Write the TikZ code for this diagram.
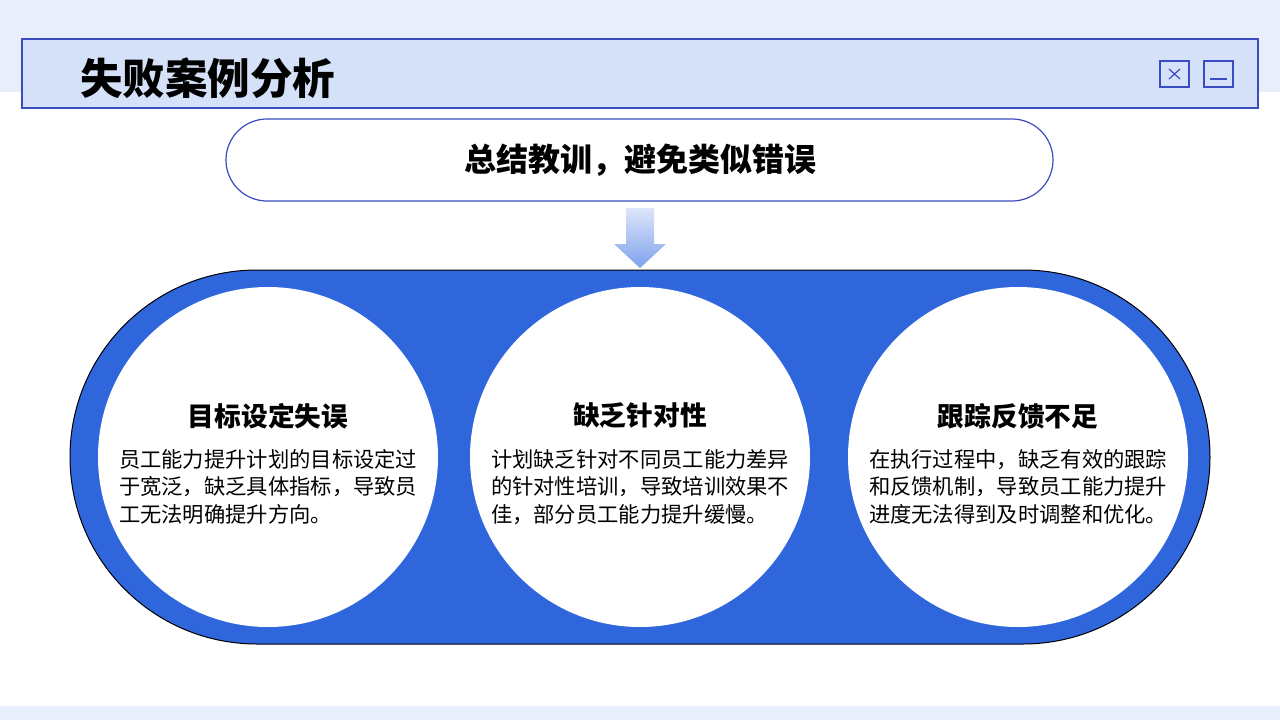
\documentclass[tikz,border=0pt]{standalone}
\usepackage{fontspec}
\setmainfont{Noto Sans CJK SC}
\usepackage{tikz}
\definecolor{bandblue}{HTML}{E8EEFA}
\definecolor{titlefill}{HTML}{D5E1F8}
\definecolor{lineblue}{HTML}{3A4CC0}
\definecolor{pillblue}{HTML}{2F66DC}
\definecolor{arrowtop}{HTML}{DCE6FA}
\definecolor{arrowbot}{HTML}{7FA2EC}
\begin{document}
\begin{tikzpicture}[x=1pt,y=-1pt,
  disc/.style={circle,fill=white,minimum size=340pt,inner sep=0pt},
  head/.style={font=\fontsize{26.7}{30}\selectfont\bfseries},
  body/.style={font=\fontsize{21.3}{27.5}\selectfont,align=left,text width=298pt,inner sep=0pt}]
\useasboundingbox (0,0) rectangle (1280,720);
\fill[white] (0,0) rectangle (1280,720);
\fill[bandblue] (0,0) rectangle (1280,92);
\fill[bandblue] (0,706) rectangle (1280,720);
% title bar
\draw[lineblue,fill=titlefill,line width=1.2pt] (22,39) rectangle (1258,108);
\node[anchor=west,inner sep=0pt,font=\fontsize{42.5}{48}\selectfont\bfseries] (title) at (80,78) {失败案例分析};
\draw[lineblue,line width=1.2pt] (1160,61) rectangle (1189,87);
\draw[lineblue,line width=1.2pt] (1169,69) -- (1180,79) (1180,69) -- (1169,79);
\draw[lineblue,line width=1.2pt] (1204,61) rectangle (1233,87);
\draw[lineblue,line width=1.2pt] (1210,79) -- (1227,79);
% summary pill
\draw[lineblue,fill=white,line width=1.2pt,rounded corners=41pt] (226,119) rectangle (1053,201);
\node[font=\fontsize{32}{36}\selectfont\bfseries] (sum) at (640,160) {总结教训，避免类似错误};
% arrow
\shade[top color=arrowtop,bottom color=arrowbot]
  (626,208) -- (654,208) -- (654,244) -- (666,244) -- (640,268) -- (614,244) -- (626,244) -- cycle;
% big pill
\draw[black,fill=pillblue,line width=1pt,rounded corners=187pt] (70,270) rectangle (1210,644);
\node[disc] (c1) at (268,457) {};
\node[disc] (c2) at (640,457) {};
\node[disc] (c3) at (1018,457) {};
\foreach \n/\h/\b in {c1/目标设定失误/{员工能力提升计划的目标设定过\\于宽泛，缺乏具体指标，导致员\\工无法明确提升方向。},
  c2/缺乏针对性/{计划缺乏针对不同员工能力差异\\的针对性培训，导致培训效果不\\佳，部分员工能力提升缓慢。},
  c3/跟踪反馈不足/{在执行过程中，缺乏有效的跟踪\\和反馈机制，导致员工能力提升\\进度无法得到及时调整和优化。}}{
  \node[head] (\n h) at ([yshift=41pt]\n) {\h};
  \node[body,anchor=north] (\n b) at ([yshift=8pt]\n) {\b};
}
\end{tikzpicture}
\end{document}
